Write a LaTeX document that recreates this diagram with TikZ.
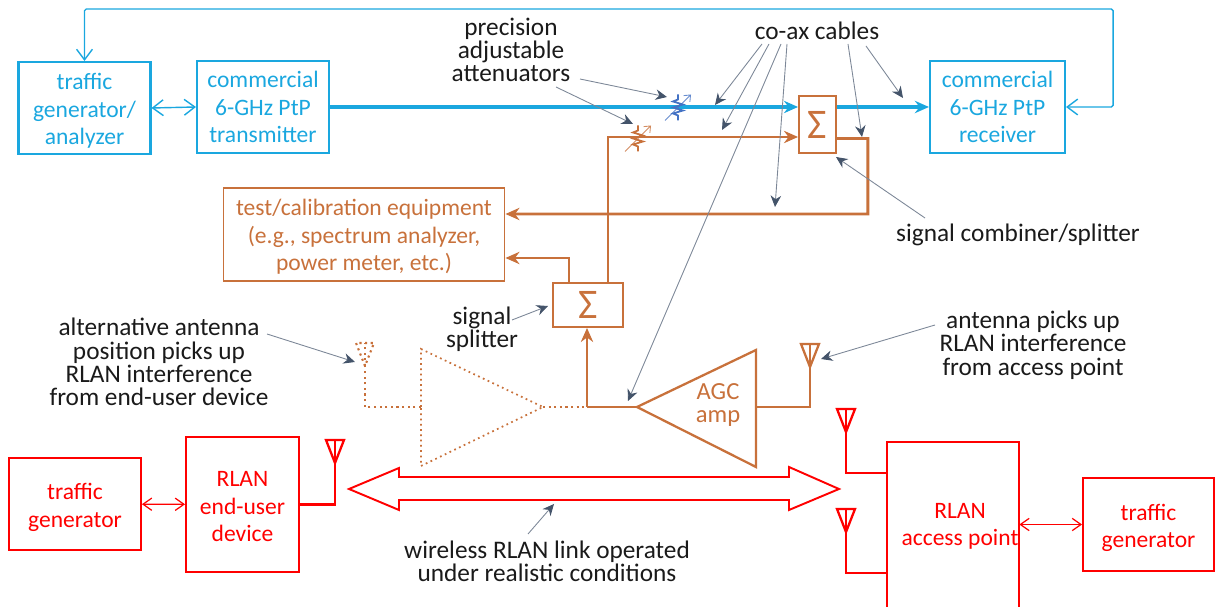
\documentclass[tikz,border=0pt]{standalone}
\usepackage{fontspec}
\setmainfont{Carlito}
\usetikzlibrary{arrows.meta,calc}

\definecolor{wifiblue}{HTML}{1AA7DF}
\definecolor{coaxorange}{HTML}{C8713B}
\definecolor{attenblue}{HTML}{4472C4}
\definecolor{notegray}{HTML}{44546A}
\definecolor{inkblack}{HTML}{1A1A1A}

\newcommand{\boxpad}[1]{\rule{0pt}{#1pt}}

\tikzset{
  boxtext/.style={align=center,font=\fontsize{13.4}{15.6}\selectfont,inner sep=0pt},
  notetext/.style={align=center,font=\fontsize{14.4}{13.3}\selectfont,inner sep=0pt,text=inkblack},
  bluebox/.style={boxtext,draw=wifiblue,text=wifiblue,line width=1.2pt},
  orangebox/.style={boxtext,draw=coaxorange,text=coaxorange,line width=1.1pt},
  redbox/.style={boxtext,draw=red,text=red,line width=1.1pt},
  sumbox/.style={orangebox,font=\fontsize{24}{24}\selectfont},
  note/.style={draw=notegray!70,line width=0.5pt,-{Stealth[length=6.5pt,width=6pt,color=notegray]}},
  bluecable/.style={wifiblue,line width=1.8pt,-{Stealth[length=8pt,width=7pt]}},
  orangecable/.style={coaxorange,line width=1.7pt,-{Stealth[length=8pt,width=7pt]}},
  bluelink/.style={wifiblue,line width=0.8pt,{Straight Barb[length=6pt,width=9pt]}-{Straight Barb[length=6pt,width=9pt]}},
  redlink/.style={red,line width=0.7pt,{Straight Barb[length=5pt,width=7pt]}-{Straight Barb[length=5pt,width=7pt]}},
  attenuator/.pic={
    \draw [line width=1pt] (0,-13) -- (0,-8) -- (-5,-6) -- (5,-3) -- (-5,0) -- (5,3) -- (-5,6) -- (0,8) -- (0,13) ;
    \draw [line width=0.5pt,opacity=0.8,-{Straight Barb[length=3pt,width=5pt]}] (-13,13) -- (13,-13) ;
  },
  antenna/.pic={
    \draw [pic actions] (0,0) -- (-9,-23) -- (9,-23) -- cycle ;
    \draw [pic actions] (0,0) -- (0,-23) ;
  },
}

\begin{document}
\begin{tikzpicture}[x=0.02cm,y=-0.02cm]
\useasboundingbox (0,0) rectangle (1215,607) ;

% top row
\node (tgen) [bluebox,minimum width=2.64cm,minimum height=1.84cm] at (84.5,108) {\boxpad{12.5}traffic\\generator/\\analyzer} ;
\node (txbox) [bluebox,minimum width=2.64cm,minimum height=1.84cm] at (263,107) {commercial\\6-GHz PtP\\transmitter} ;
\node (rxbox) [bluebox,minimum width=2.7cm,minimum height=1.84cm] at (997.5,107) {commercial\\6-GHz PtP\\receiver} ;
\node (sumtop) [sumbox,minimum width=0.74cm,minimum height=1.14cm] at (817.5,124.5) {Σ} ;

% middle row
\node (testbox) [orangebox,minimum width=5.62cm,minimum height=1.86cm] at (364,234.5) {\boxpad{12}test/calibration equipment\\(e.g., spectrum analyzer,\\power meter, etc.)} ;
\node (sumbot) [sumbox,minimum width=1.4cm,minimum height=0.88cm] at (588,305) {Σ} ;

% bottom row
\node (trafficl) [redbox,minimum width=2.64cm,minimum height=1.84cm] at (75,504) {\boxpad{13}traffic\\generator} ;
\node (endbox) [redbox,minimum width=2.26cm,minimum height=2.7cm] at (242.5,504.5) {\boxpad{11}RLAN\\end-user\\device} ;
\node (apbox) [minimum width=2.64cm,minimum height=3.3cm] at (953,524.5) {} ;
\node (aplabel) [boxtext,text=red] at (960,526.5) {RLAN\\access point} ;
\node (trafficr) [redbox,minimum width=2.62cm,minimum height=1.86cm] at (1148.5,524.5) {\boxpad{13}traffic\\generator} ;
\draw [red,line width=1.1pt] (apbox.south west) -- (apbox.north west) -- (apbox.north east) -- (apbox.south east) ;

% blue links
\draw [bluecable] (txbox.east) -- (txbox.east -| sumtop.west) ;
\draw [bluecable] (sumtop.east |- rxbox.west) -- (rxbox.west) ;
\draw [bluelink] (tgen.east) -- (txbox.west) ;
\draw [bluelink,rounded corners=1pt] (rxbox.east) -- ++(47,0) -- ++(0,-98) -| (tgen.north) ;

% orange cables
\draw [orangecable] ($(sumbot.north)+(20,0)$) |- ($(sumtop.west)+(0,12.5)$) ;
\draw [orangecable] ($(sumbot.north)+(-19,0)$) |- ($(testbox.east)+(0,23.5)$) ;
\draw [orangecable] ($(sumtop.east)+(0,14)$) -- ++(31,0) -- ++(0,75.5) -- ($(testbox.east)+(0,-20.5)$) ;

% attenuators
\path (678,107.5) pic [attenblue] {attenuator} ;
\path (638,138.5) pic [coaxorange] {attenuator} ;

% amplifier
\coordinate (agctip) at (637,407) ;
\coordinate (agcback) at (756,407) ;
\coordinate (altback) at (421,407) ;
\coordinate (alttip) at (543,407) ;
\coordinate (splitfeed) at (587,407) ;
\coordinate (rxant) at (810,367) ;
\coordinate (altant) at (365,366) ;
\draw [coaxorange,line width=1.3pt,line join=miter] (agctip) -- (756,350) -- (756,467) -- cycle ;
\node (agcamp) [align=center,text=coaxorange,font=\fontsize{14}{13.5}\selectfont,inner sep=0pt] at (718,405) {AGC\\amp} ;
\draw [orangecable] (splitfeed) -- (sumbot.south -| splitfeed) ;
\draw [coaxorange,line width=1.7pt] (splitfeed) -- (agctip) ;
\draw [coaxorange,line width=1.7pt] (agcback) -| (rxant) ;
\path (rxant) pic [coaxorange,line width=1.3pt] {antenna} ;

% dotted alternative
\draw [coaxorange,dotted,line width=1pt] (altback) -- (421,349) -- (alttip) -- (421,466) -- cycle ;
\draw [coaxorange,dotted,line width=1.2pt] (alttip) -- (splitfeed) ;
\draw [coaxorange,dotted,line width=1.2pt] (altback) -| (altant) ;
\path (altant) pic [coaxorange,dotted,line width=1.2pt] {antenna} ;

% red antennas and link
\coordinate (endant) at (335,463) ;
\coordinate (apanta) at (846,432) ;
\coordinate (apantb) at (846,532) ;
\draw [red,line width=1.7pt] (endbox.east) -| (endant) ;
\draw [red,line width=1.7pt] (apbox.west |- 0,473) -| (apanta) ;
\draw [red,line width=1.7pt] (apbox.west |- 0,573) -| (apantb) ;
\path (endant) pic [red,line width=1.3pt] {antenna} ;
\path (apanta) pic [red,line width=1.3pt] {antenna} ;
\path (apantb) pic [red,line width=1.3pt] {antenna} ;
\draw [red,line width=1.1pt] (349,489) -- (399,468) -- (399,477) -- (789,477) -- (789,467) -- (839,489) -- (789,510) -- (789,500) -- (399,500) -- (399,510) -- cycle ;
\draw [redlink] (trafficl) -- (endbox) ;
\draw [redlink] (apbox) -- (trafficr) ;

% labels
\node (attenlabel) [notetext] at (511,50) {precision\\adjustable\\attenuators} ;
\node (coaxlabel) [notetext] at (817,31) {co-ax cables} ;
\node (combinelabel) [notetext] at (1018,235) {signal combiner/splitter} ;
\node (splitlabel) [notetext] at (482,329.5) {signal\\splitter} ;
\node (altlabel) [notetext] at (159,362) {alternative antenna\\position picks up\\RLAN interference\\from end-user device} ;
\node (antlabel) [notetext] at (1033,345) {antenna picks up\\RLAN interference\\from access point} ;
\node (linklabel) [notetext] at (547,561) {wireless RLAN link operated\\under realistic conditions} ;

% note arrows
\coordinate (tipatta) at (667,97) ;
\coordinate (tipattb) at (633,124) ;
\coordinate (tipblue) at (715,105) ;
\coordinate (tiporange) at (722,130) ;
\coordinate (tipagc) at (628,401) ;
\coordinate (tipreturn) at (775,207) ;
\coordinate (tipright) at (862,137) ;
\coordinate (tiprx) at (903,98) ;
\coordinate (tipsum) at (836,157) ;
\coordinate (tipsplit) at (548,306) ;
\coordinate (tipalt) at (355,362) ;
\coordinate (tipant) at (821,359) ;
\coordinate (tiplink) at (554,504) ;
\draw [note] ($(attenlabel.center)+(69,29)$) -- (tipatta) ;
\draw [note] ($(attenlabel.center)+(45,37)$) -- (tipattb) ;
\draw [note] ($(coaxlabel.center)+(-55,13)$) -- (tipblue) ;
\draw [note] ($(coaxlabel.center)+(-48,13)$) -- (tiporange) ;
\draw [note] ($(coaxlabel.center)+(-36,13)$) -- (tipagc) ;
\draw [note] ($(coaxlabel.center)+(-30,13)$) -- (tipreturn) ;
\draw [note] ($(coaxlabel.center)+(31,13)$) -- (tipright) ;
\draw [note] ($(coaxlabel.center)+(49,15)$) -- (tiprx) ;
\draw [note] ($(combinelabel.center)+(-93,-17)$) -- (tipsum) ;
\draw [note] ($(splitlabel.center)+(30,-9.5)$) -- (tipsplit) ;
\draw [note] ($(altlabel.center)+(108,-28)$) -- (tipalt) ;
\draw [note] ($(antlabel.center)+(-98,-20)$) -- (tipant) ;
\draw [note] ($(linklabel.center)+(-19,-27)$) -- (tiplink) ;

\end{tikzpicture}
\end{document}
